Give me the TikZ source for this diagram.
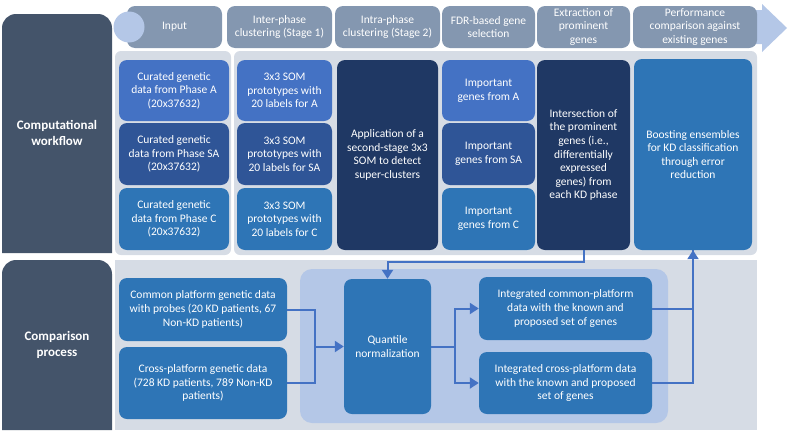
\documentclass[tikz,border=0pt]{standalone}
\usepackage{fontspec}
\setmainfont{Carlito}
\usetikzlibrary{arrows.meta,calc}
\definecolor{headgray}{HTML}{8497B0}
\definecolor{labgray}{HTML}{44546A}
\definecolor{panelgray}{HTML}{D6DCE5}
\definecolor{lightblue}{HTML}{B4C7E7}
\definecolor{blueA}{HTML}{4472C4}
\definecolor{blueSA}{HTML}{2F5597}
\definecolor{blueC}{HTML}{2E75B6}
\definecolor{navy}{HTML}{1F3864}
\definecolor{flowblue}{HTML}{4472C4}
\tikzset{
  basebox/.style={rounded corners=8pt, text=white, align=center, inner sep=2pt,
    font=\fontsize{11.5}{13.6}\selectfont},
  wh/.style 2 args={minimum width=#1pt, minimum height=#2pt},
  headbox/.style={basebox, fill=headgray},
  boxA/.style={basebox, fill=blueA},
  boxSA/.style={basebox, fill=blueSA},
  boxC/.style={basebox, fill=blueC},
  boxnavy/.style={basebox, fill=navy},
  rowlabel/.style={text=white, align=center, font=\fontsize{13}{16}\selectfont\bfseries},
  flowline/.style={line width=2pt, draw=flowblue},
  flowarrow/.style={flowline, -{Triangle[length=9pt,width=11pt]}}
}

\begin{document}
\begin{tikzpicture}[x=1pt, y=-1pt]
    \useasboundingbox (0,0) rectangle (789,434);
    % ---------------------
    % row labels and panels
    \fill[labgray] (2,253) [rounded corners=14pt] -- (2,14) -- (112,14) [sharp corners] -- (112,253) -- cycle;
    \fill[labgray] (2,430) [rounded corners=14pt] -- (2,260) -- (112,260) [sharp corners] -- (112,430) -- cycle;
    \node[rowlabel] (lblcomp) at (57,133) {Computational\\workflow};
    \node[rowlabel] (lblcmp) at (57,345) {Comparison\\process};
    \fill[panelgray, rounded corners=6pt] (115,51) rectangle (231,255);
    \fill[panelgray, rounded corners=6pt] (234,51) rectangle (757,255);
    \fill[panelgray] (115,260) rectangle (757,430);
    \fill[lightblue, rounded corners=12pt] (300,269) rectangle (668,423);
    % ---------------------
    % header arrow
    \fill[lightblue] (745,10) -- (762,10) -- (762,4) -- (787,28) -- (762,52) -- (762,44) -- (745,44) -- cycle;
    \node[headbox, wh={95}{42}] (hInput) at (174.5,27) {Input};
    \node[headbox, wh={105}{42}] (hInter) at (279.5,27) {Inter-phase\\clustering (Stage 1)};
    \node[headbox, wh={105}{42}] (hIntra) at (387.5,27) {Intra-phase\\clustering (Stage 2)};
    \node[headbox, wh={93}{42}] (hFdr) at (488.5,27) {FDR-based gene\\selection};
    \node[headbox, wh={93}{42}] (hExtr) at (583.5,27) {Extraction of\\prominent\\genes};
    \node[headbox, wh={124}{42}] (hPerf) at (695,27) {Performance\\comparison against\\existing genes};
    \node[circle, fill=lightblue, minimum size=31pt, inner sep=0pt] (hDot) at (129,27) {};
    % ---------------------
    % computational workflow
    \node[boxA, wh={110}{61}] (curA) at (174,90.5) {Curated genetic\\data from Phase A\\(20x37632)};
    \node[boxSA, wh={110}{62}] (curSA) at (174,154) {Curated genetic\\data from Phase SA\\(20x37632)};
    \node[boxC, wh={110}{62}] (curC) at (174,219) {Curated genetic\\data from Phase C\\(20x37632)};
    \node[boxA, wh={95}{61}] (somA) at (284.5,90.5) {3x3 SOM\\prototypes with\\20 labels for A};
    \node[boxSA, wh={95}{62}] (somSA) at (284.5,154) {3x3 SOM\\prototypes with\\20 labels for SA};
    \node[boxC, wh={95}{62}] (somC) at (284.5,219) {3x3 SOM\\prototypes with\\20 labels for C};
    \node[boxnavy, wh={101}{190}] (second) at (387.5,155) {Application of a\\second-stage 3x3\\SOM to detect\\super-clusters};
    \node[boxA, wh={93}{61}] (impA) at (488.5,90.5) {Important\\genes from A};
    \node[boxSA, wh={93}{62}] (impSA) at (488.5,154) {Important\\genes from SA};
    \node[boxC, wh={93}{62}] (impC) at (488.5,219) {Important\\genes from C};
    \node[boxnavy, wh={93}{190}] (extract) at (583.5,155) {Intersection of\\the prominent\\genes (i.e.,\\differentially\\expressed\\genes) from\\each KD phase};
    \node[boxC, wh={118}{191}] (boost) at (693,154.5) {Boosting ensembles\\for KD classification\\through error\\reduction};
    % ---------------------
    % comparison process
    \node[boxC, wh={168}{63}] (common) at (203,309.5) {Common platform genetic data\\with probes (20 KD patients, 67\\Non-KD patients)};
    \node[boxC, wh={168}{72}] (cross) at (203,383) {Cross-platform genetic data\\(728 KD patients, 789 Non-KD\\patients)};
    \node[boxC, wh={87}{135}] (quant) at (387.5,346.5) {Quantile\\normalization};
    \node[boxC, wh={173}{63}] (intcommon) at (565.5,308.5) {Integrated common-platform\\data with the known and\\proposed set of genes};
    \node[boxC, wh={173}{62}] (intcross) at (565.5,383) {Integrated cross-platform data\\with the known and proposed\\set of genes};
    % ---------------------
    \coordinate (merge) at (315,346.5);
    \coordinate (split) at (455,346.5);
    \coordinate (bend) at (387.5,262);
    \draw[flowline] (common.east) -| (merge);
    \draw[flowline] (cross.east) -| (merge);
    \draw[flowarrow] (merge) -- (quant.west);
    \draw[flowline] (quant.east) -- (split);
    \draw[flowarrow] (split) |- (intcommon.west);
    \draw[flowarrow] (split) |- (intcross.west);
    \draw[flowline] (intcommon.east) -| (boost.south);
    \draw[flowarrow] (intcross.east) -| (boost.south);
    \draw[flowarrow] (extract.south) |- (bend) -- (quant.north);
\end{tikzpicture}
\end{document}
